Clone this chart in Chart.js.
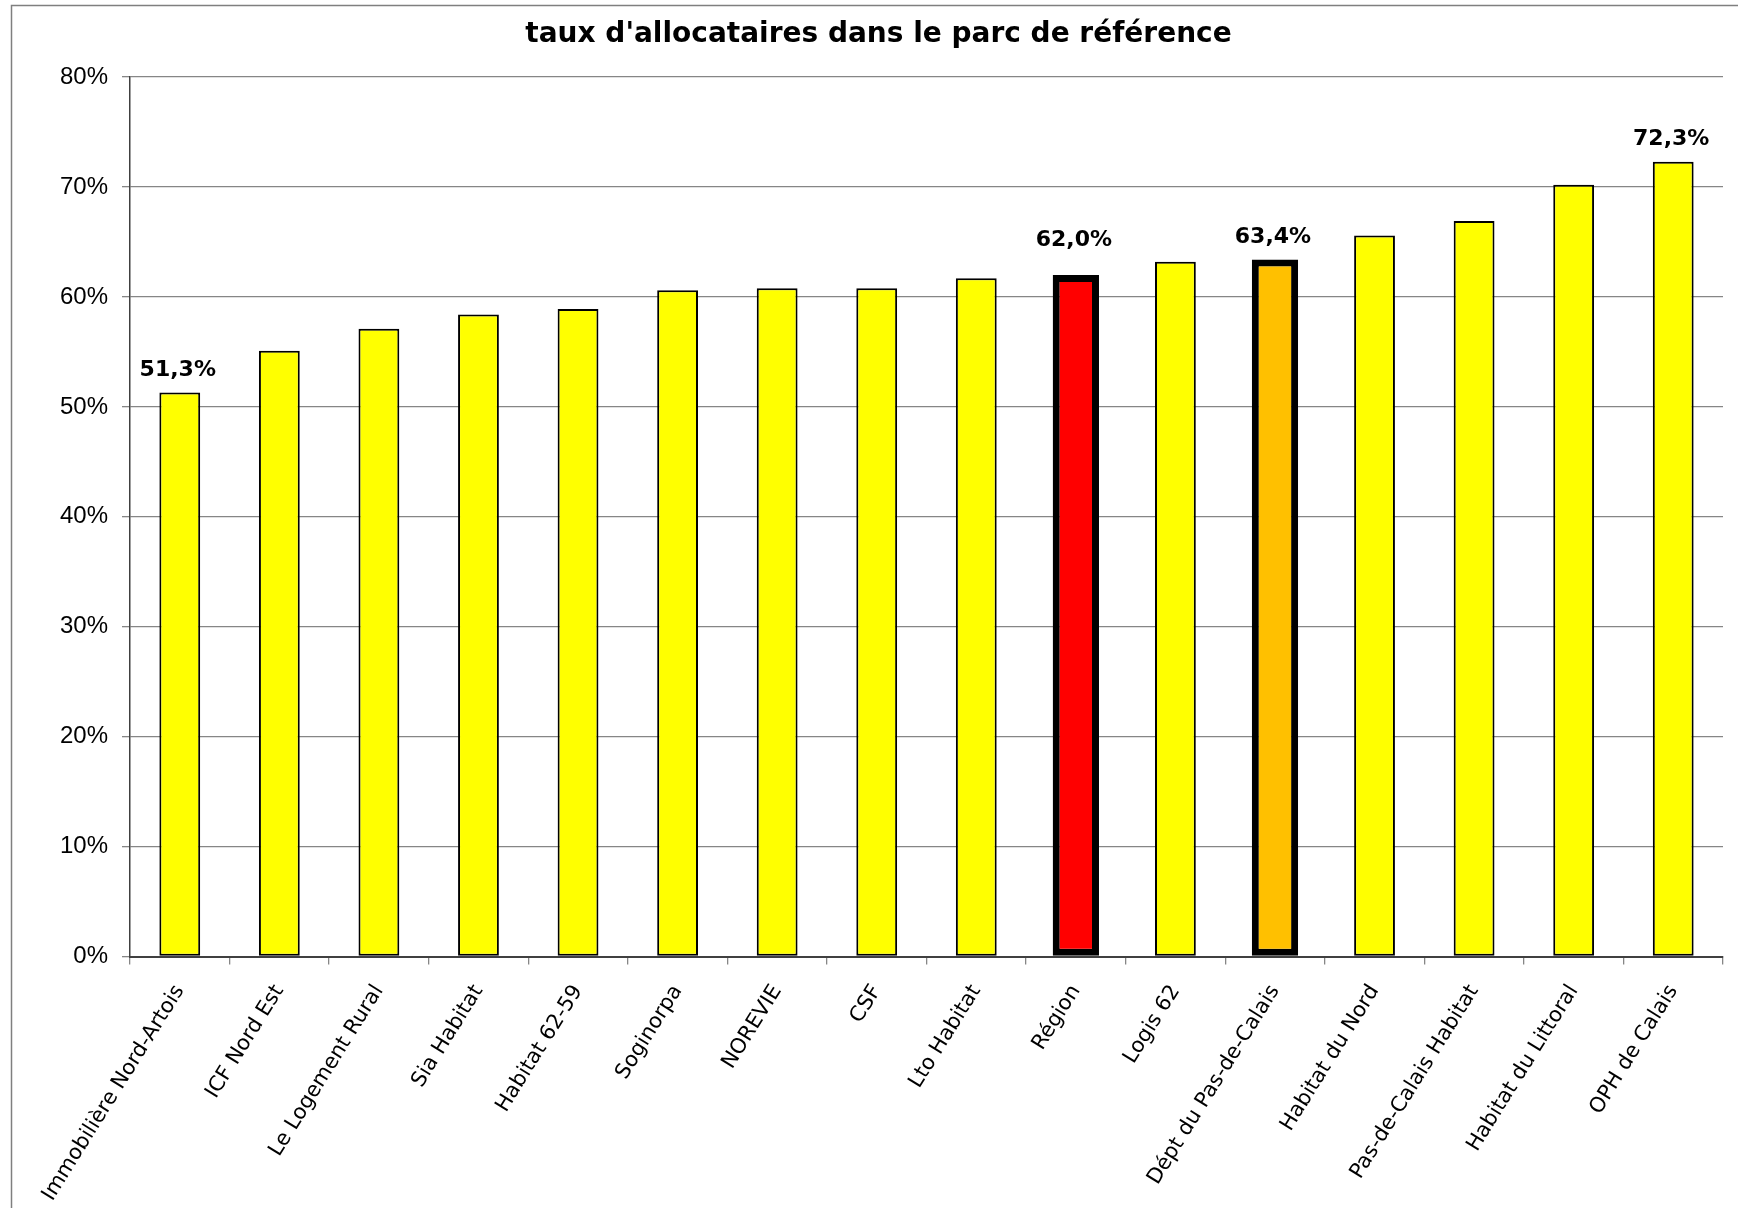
<!DOCTYPE html>
<html>
<head>
<meta charset="utf-8">
<script src="https://cdn.jsdelivr.net/npm/chart.js@4/dist/chart.umd.min.js"></script>
<style>
  body { margin: 0; background: #fff; }
  #wrap { width: 1738px; height: 1208px; }
</style>
</head>
<body>
<div id="wrap"><canvas id="chart" width="1738" height="1208"></canvas></div>
<script>
const categories = [
  "Immobilière Nord-Artois", "ICF Nord Est", "Le Logement Rural", "Sia Habitat",
  "Habitat 62-59", "Soginorpa", "NOREVIE", "CSF", "Lto Habitat", "Région",
  "Logis 62", "Dépt du Pas-de-Calais", "Habitat du Nord", "Pas-de-Calais Habitat",
  "Habitat du Littoral", "OPH de Calais"
];
const rates = [51.3, 55.1, 57.1, 58.4, 58.9, 60.6, 60.8, 60.8, 61.7, 62.0, 63.2, 63.4, 65.6, 66.9, 70.2, 72.3];
// bars drawn with a thick outline and their own colour
const highlighted = [9, 11];
const highlightColors = ["#FF0000", "#FFC000"];
// bars that carry a value label
const labelled = [0, 9, 11, 15];
const yTicks = [0, 10, 20, 30, 40, 50, 60, 70, 80];

const plainData = rates.map((v, i) => highlighted.includes(i) ? null : v);
const highData = rates.map((v, i) => highlighted.includes(i) ? v : null);
const highColors = rates.map((v, i) => {
  const k = highlighted.indexOf(i);
  return k >= 0 ? highlightColors[k] : "#FFFF00";
});

function fmt(v) {
  return v.toFixed(1).replace(".", ",") + "%";
}

// outer frame of the chart object
const framePlugin = {
  id: "frame",
  beforeDraw(chart) {
    const c = chart.ctx;
    c.save();
    c.strokeStyle = "#7f7f7f";
    c.lineWidth = 1.5;
    c.strokeRect(11.5, 5.5, 1760, 1260);
    c.restore();
  }
};

const valueLabels = {
  id: "valueLabels",
  afterDatasetsDraw(chart) {
    const c = chart.ctx;
    c.save();
    c.font = "bold 22px 'DejaVu Sans'";
    c.fillStyle = "#000";
    c.textAlign = "center";
    c.textBaseline = "alphabetic";
    labelled.forEach(i => {
      const ds = highlighted.includes(i) ? 1 : 0;
      const bar = chart.getDatasetMeta(ds).data[i];
      // the Région label sits a little higher in the original
      const lift = i === 9 ? 29 : 17;
      c.fillText(fmt(rates[i]), bar.x - 2, bar.y - lift);
    });
    c.restore();
  }
};

new Chart(document.getElementById("chart"), {
  type: "bar",
  data: {
    labels: categories,
    datasets: [
      {
        data: plainData,
        backgroundColor: "#FFFF00",
        borderColor: "#000",
        borderWidth: 2,
        borderSkipped: false,
        barPercentage: 0.41,
        categoryPercentage: 1,
        grouped: false
      },
      {
        data: highData,
        backgroundColor: highColors,
        borderColor: "#000",
        borderWidth: 7,
        borderSkipped: false,
        barPercentage: 0.465,
        categoryPercentage: 1,
        grouped: false
      }
    ]
  },
  options: {
    responsive: false,
    animation: false,
    layout: { padding: { left: 34, right: 15, top: 0, bottom: 0 } },
    plugins: {
      legend: { display: false },
      tooltip: { enabled: false },
      title: {
        display: true,
        text: "taux d'allocataires dans le parc de référence",
        color: "#000",
        font: { family: "DejaVu Sans", size: 28, weight: "bold", lineHeight: 1.2 },
        padding: { top: 17.5, bottom: 26 }
      }
    },
    scales: {
      x: {
        offset: true,
        grid: {
          offset: true,
          drawOnChartArea: true,
          color: ctx => ctx.index === categories.length ? "#868686" : "rgba(0,0,0,0)",
          tickColor: "#868686",
          tickLength: 8,
          lineWidth: 1.3
        },
        border: { display: true, color: "#404040", width: 2 },
        ticks: {
          autoSkip: false,
          minRotation: 58,
          maxRotation: 58,
          padding: 16,
          color: "#000",
          font: { family: "DejaVu Sans", size: 21 }
        },
        afterFit(scale) { scale.height = 251.5; }
      },
      y: {
        min: 0,
        max: 80,
        afterBuildTicks(scale) { scale.ticks = yTicks.map(v => ({ value: v })); },
        grid: { color: "#868686", lineWidth: 1.3, tickLength: 8 },
        border: { display: true, color: "#404040", width: 1.5 },
        ticks: {
          padding: 14,
          color: "#000",
          font: { family: "Liberation Sans", size: 24 },
          callback: v => v + "%"
        },
        afterFit(scale) { scale.width = 96; }
      }
    }
  },
  plugins: [framePlugin, valueLabels]
});
</script>
</body>
</html>
